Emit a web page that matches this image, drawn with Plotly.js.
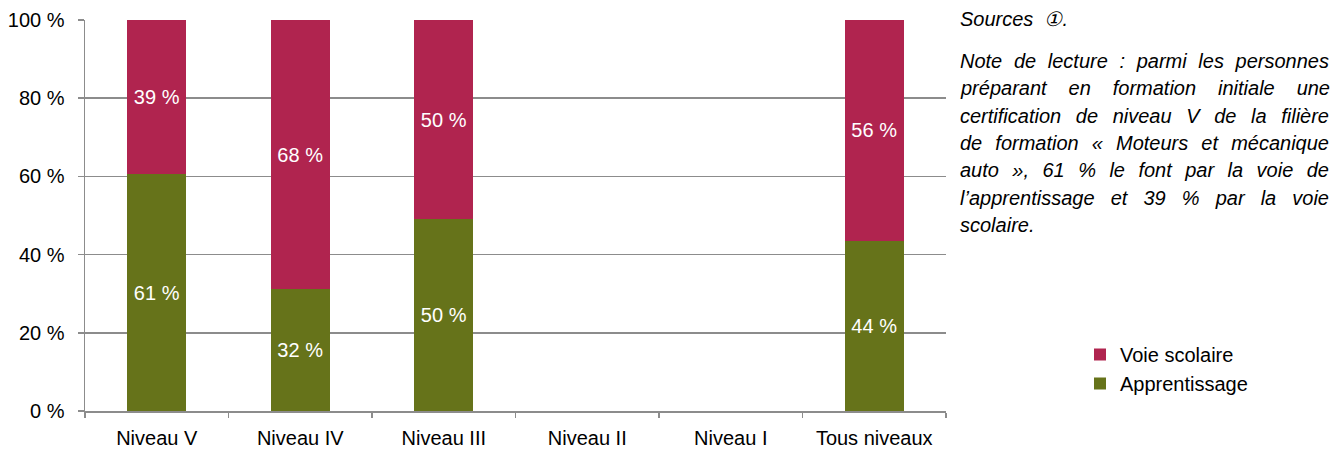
<!DOCTYPE html>
<html>
<head>
<meta charset="utf-8">
<script src="https://cdn.plot.ly/plotly-3.0.1.min.js"></script>
<style>
  html, body { margin: 0; padding: 0; background: #ffffff; }
  #chart { width: 1340px; height: 450px; }
</style>
</head>
<body>
<div id="chart"></div>
<script>
// ---- Data ----
const categories = ['Niveau V', 'Niveau IV', 'Niveau III', 'Niveau II', 'Niveau I', 'Tous niveaux'];
const apprentissage = [60.6, 31.2, 49.1, null, null, 43.6];
const voieScolaire = [39.4, 68.8, 50.9, null, null, 56.4];
const apprentissageLabels = ['61 %', '32 %', '50 %', '', '', '44 %'];
const voieScolaireLabels = ['39 %', '68 %', '50 %', '', '', '56 %'];
const yTickValues = [0, 20, 40, 60, 80, 100];
const yTickLabels = ['0 %', '20 %', '40 %', '60 %', '80 %', '100 %'];
const seriesNames = ['Apprentissage', 'Voie scolaire'];
const sourcesText = 'Sources  \u2460.';
const noteLines = [
  'Note de lecture : parmi les personnes',
  'préparant en formation initiale une',
  'certification de niveau V de la filière',
  'de formation « Moteurs et mécanique',
  'auto », 61 % le font par la voie de',
  'l\u2019apprentissage et 39 % par la voie',
  'scolaire.'
];

const FONT = 'Liberation Sans, Arial, sans-serif';
const FS = 20;
const GREEN = '#66731a';
const RED = '#b0244f';
const GRAY = '#8c8c8c';

const traces = [
  {
    type: 'bar', name: seriesNames[0], x: categories, y: apprentissage,
    text: apprentissageLabels, textposition: 'inside', insidetextanchor: 'middle',
    textfont: { family: FONT, size: FS, color: '#ffffff' },
    constraintext: 'none', marker: { color: GREEN }, legendgroup: 'a'
  },
  {
    type: 'bar', name: seriesNames[1], x: categories, y: voieScolaire,
    text: voieScolaireLabels, textposition: 'inside', insidetextanchor: 'middle',
    textfont: { family: FONT, size: FS, color: '#ffffff' },
    constraintext: 'none', marker: { color: RED }, legendgroup: 'b'
  }
];

// plot area: top 20 px, bottom 411 px
function py(pix) { return (411 - pix) / 391; }
const TEXT_X = (958 - 85) / 861;

const annotations = [
  {
    xref: 'paper', yref: 'paper', x: TEXT_X, y: py(19), xanchor: 'left', yanchor: 'middle',
    text: '<i>' + sourcesText + '</i>', showarrow: false, align: 'left',
    font: { family: FONT, size: FS, color: '#000000' }
  }
];
noteLines.forEach(function (line, i) {
  annotations.push({
    xref: 'paper', yref: 'paper', x: TEXT_X, y: py(61 + 27.3 * i), xanchor: 'left', yanchor: 'middle',
    text: '<i>' + line + '</i>', showarrow: false, align: 'left',
    font: { family: FONT, size: FS, color: '#000000' }
  });
});

const layout = {
  width: 1340, height: 450,
  margin: { l: 85, r: 394, t: 20, b: 39, pad: 0 },
  paper_bgcolor: '#ffffff', plot_bgcolor: '#ffffff',
  barmode: 'stack', bargap: 0.59,
  font: { family: FONT, size: FS, color: '#000000' },
  showlegend: true,
  legend: {
    x: (1080 - 85) / 861, y: py(335), xanchor: 'left', yanchor: 'top',
    traceorder: 'reversed', tracegroupgap: 2,
    font: { family: FONT, size: FS, color: '#000000' },
    bgcolor: 'rgba(0,0,0,0)'
  },
  xaxis: {
    type: 'category', range: [-0.5, 5.5], fixedrange: true,
    showline: true, linecolor: GRAY, linewidth: 1.5,
    ticks: 'outside', tickson: 'boundaries', ticklen: 5, tickcolor: GRAY, tickwidth: 1.5,
    tickfont: { family: FONT, size: FS, color: '#000000' },
    ticklabelstandoff: 8,
    showgrid: false, zeroline: false
  },
  yaxis: {
    range: [0, 100], fixedrange: true,
    tickmode: 'array', tickvals: yTickValues, ticktext: yTickLabels,
    showline: true, linecolor: GRAY, linewidth: 1.5,
    ticks: 'outside', ticklen: 6, tickcolor: GRAY, tickwidth: 1.5,
    showgrid: true, gridcolor: GRAY, gridwidth: 1.5,
    tickfont: { family: FONT, size: FS, color: '#000000' },
    ticklabelstandoff: 9,
    zeroline: false
  },
  annotations: annotations
};

const JUSTIFY_WIDTH = 369;
function justifyNote() {
  const gd = document.getElementById('chart');
  gd.querySelectorAll('.annotation').forEach(function (a) {
    const idx = parseInt(a.getAttribute('data-index'), 10);
    // note lines are annotations 1..noteLines.length; last line left as is
    if (!(idx >= 1 && idx < noteLines.length)) return;
    const t = a.querySelector('text.annotation-text');
    if (!t) return;
    t.style.wordSpacing = '0px';
    const w = t.getComputedTextLength();
    const gaps = (t.textContent.match(/ /g) || []).length;
    if (gaps > 0 && w < JUSTIFY_WIDTH) {
      t.style.wordSpacing = ((JUSTIFY_WIDTH - w) / gaps) + 'px';
    }
  });
}

Plotly.newPlot('chart', traces, layout, { displayModeBar: false, staticPlot: true }).then(function (gd) {
  justifyNote();
  gd.on('plotly_afterplot', justifyNote);
});
</script>
</body>
</html>
